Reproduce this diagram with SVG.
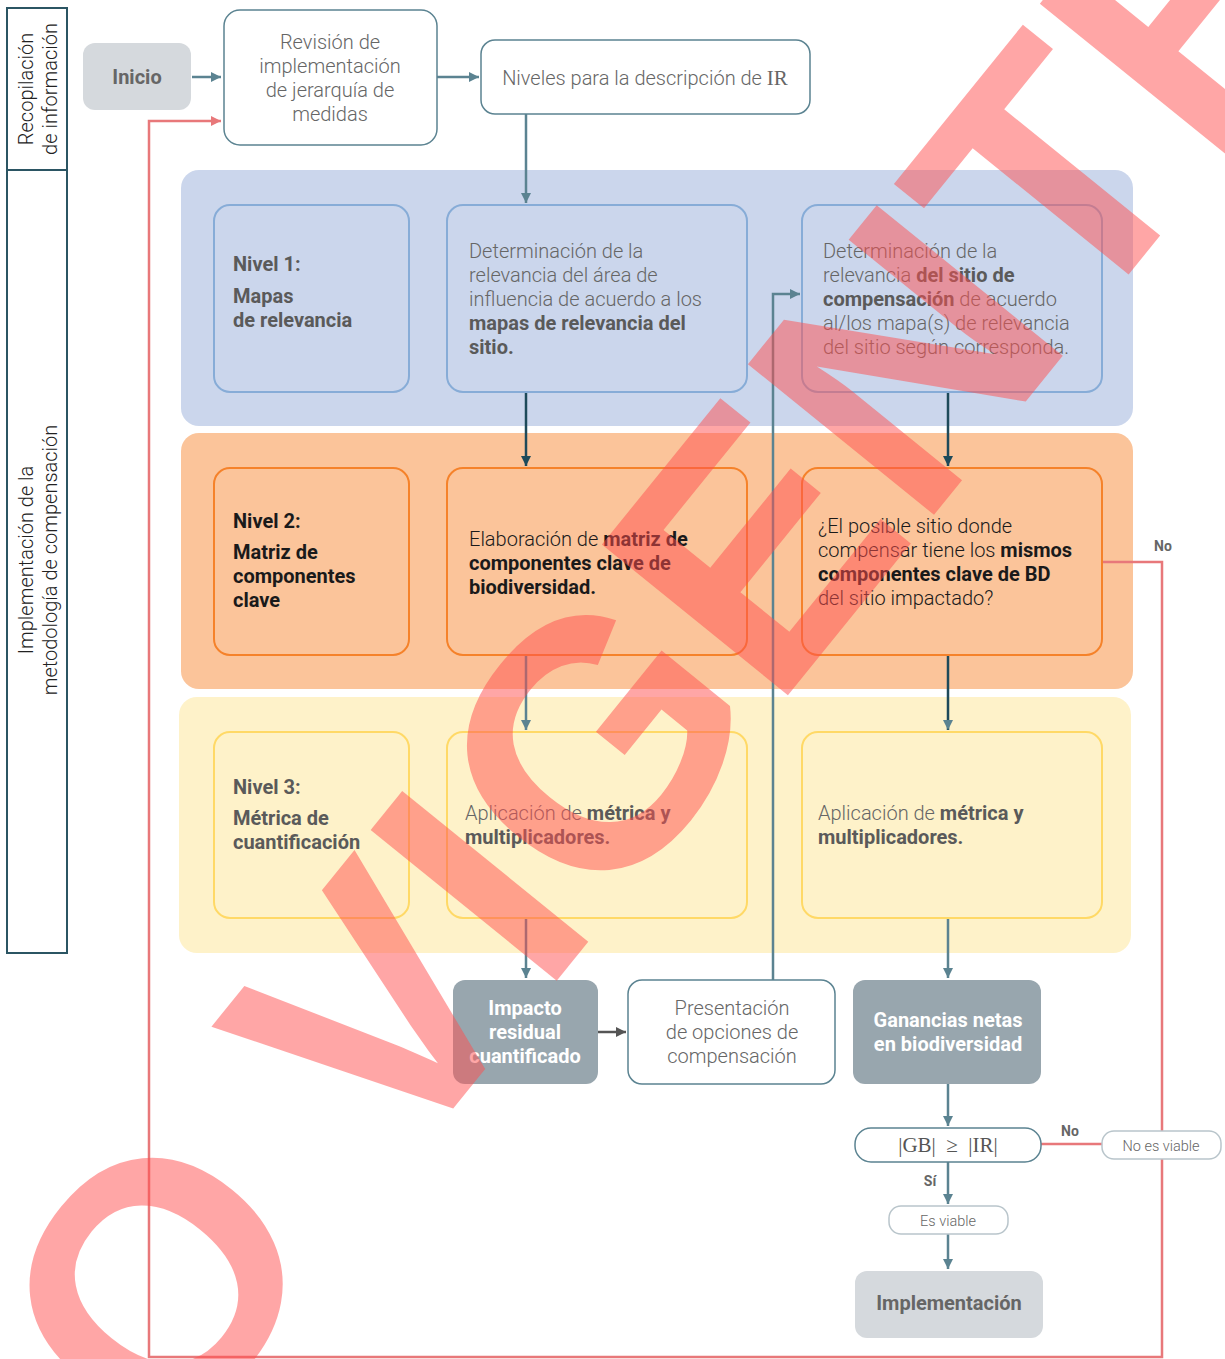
<svg xmlns="http://www.w3.org/2000/svg" width="1225" height="1359" viewBox="0 0 1225 1359">
<style>
.t{font-family:Roboto,"Liberation Sans",sans-serif;font-size:20px;font-weight:300;fill:#666}
.b{font-weight:700}
.dk{fill:#1a1a1a}
.w{fill:#fff;font-weight:700}
.m{text-anchor:middle}
.sm{font-size:14.5px}
.lab{font-family:Roboto,"Liberation Sans",sans-serif;font-size:14px;font-weight:700;fill:#666}
.side{fill:none;stroke:#2b5563;stroke-width:2}
.nb{fill:#fff;stroke:#5b8391;stroke-width:1.5}
.lb{fill:#fff;stroke:#b9c5cb;stroke-width:1.5}
.blu{fill:none;stroke:#87acd7;stroke-width:2}
.org{fill:none;stroke:#f5822a;stroke-width:2}
.yel{fill:none;stroke:#ffd966;stroke-width:2}
.grey{fill:#98a6ae}
.lg{fill:#d5d9dd}
.c{fill:none;stroke:#5b8391;stroke-width:2.5}
.cd{fill:none;stroke:#1e4a5a;stroke-width:2.5}
.cr{fill:none;stroke:#e8787a;stroke-width:2.5}
</style>
<defs>
<marker id="aT" markerUnits="userSpaceOnUse" markerWidth="12" markerHeight="12" refX="10" refY="5" orient="auto"><path d="M0,0 L10,5 L0,10 Z" fill="#5b8391"/></marker>
<marker id="aD" markerUnits="userSpaceOnUse" markerWidth="12" markerHeight="12" refX="10" refY="5" orient="auto"><path d="M0,0 L10,5 L0,10 Z" fill="#1e4a5a"/></marker>
<marker id="aG" markerUnits="userSpaceOnUse" markerWidth="12" markerHeight="12" refX="10" refY="5" orient="auto"><path d="M0,0 L10,5 L0,10 Z" fill="#555"/></marker>
<marker id="aR" markerUnits="userSpaceOnUse" markerWidth="12" markerHeight="12" refX="10" refY="5" orient="auto"><path d="M0,0 L10,5 L0,10 Z" fill="#e8787a"/></marker>
</defs>

<g id="lanes">
<rect class="side" x="7" y="8" width="60" height="162"/>
<rect class="side" x="7" y="170" width="60" height="783"/>
<text class="t m" style="fill:#222" transform="translate(33,89) rotate(-90)">Recopilación</text>
<text class="t m" style="fill:#222" transform="translate(57,89) rotate(-90)">de información</text>
<text class="t m" style="fill:#222" transform="translate(33,560) rotate(-90)">Implementación de la</text>
<text class="t m" style="fill:#222" transform="translate(57,560) rotate(-90)">metodología de compensación</text>
</g>

<g id="panels">
<rect x="181" y="170" width="952" height="256" rx="18" fill="#cbd6ec"/>
<rect x="181" y="433" width="952" height="256" rx="18" fill="#fbc49a"/>
<rect x="179" y="697" width="952" height="256" rx="18" fill="#fef2c9"/>
</g>

<g id="connectors">
<path class="c" d="M192,77 H221" marker-end="url(#aT)"/>
<path class="c" d="M437,77 H479" marker-end="url(#aT)"/>
<path class="c" d="M526,114 V203" marker-end="url(#aT)"/>
<path class="cd" d="M526,392 V466" marker-end="url(#aD)"/>
<path class="cd" d="M948,392 V466" marker-end="url(#aD)"/>
<path class="c" d="M526,655 V730" marker-end="url(#aT)"/>
<path class="cd" d="M948,655 V730" marker-end="url(#aT)"/>
<path class="c" d="M526,918 V978" marker-end="url(#aT)"/>
<path class="c" d="M948,918 V978" marker-end="url(#aT)"/>
<path class="c" d="M773,980 V294 H800" marker-end="url(#aT)"/>
<path fill="none" stroke="#555" stroke-width="2.5" d="M598,1032 H626" marker-end="url(#aG)"/>
<path class="c" d="M948,1084 V1126" marker-end="url(#aT)"/>
<path class="c" d="M948,1162 V1204" marker-end="url(#aT)"/>
<path class="c" d="M948,1234 V1269" marker-end="url(#aT)"/>
<path class="cr" d="M1041,1144 H1102"/>
<path class="cr" d="M1102,562 H1162 V1357 H149 V121 H221" marker-end="url(#aR)"/>
<text class="lab" x="1163" y="551" text-anchor="middle">No</text>
<text class="lab" x="1070" y="1136" text-anchor="middle">No</text>
<text class="lab" x="930" y="1186" text-anchor="middle">Sí</text>
</g>

<g id="inicio">
<rect class="lg" x="83" y="43" width="108" height="67" rx="12"/>
<text class="t b m" x="137" y="84">Inicio</text>
</g>
<g id="revision">
<rect class="nb" x="224" y="10" width="213" height="135" rx="16"/>
<text class="t m" x="330" y="49">Revisión de</text>
<text class="t m" x="330" y="73">implementación</text>
<text class="t m" x="330" y="97">de jerarquía de</text>
<text class="t m" x="330" y="121">medidas</text>
</g>
<g id="niveles">
<rect class="nb" x="481" y="40" width="329" height="74" rx="14"/>
<text class="t m" x="645" y="85">Niveles para la descripción de <tspan style="font-family:'Liberation Serif',serif;font-size:21px">IR</tspan></text>
</g>

<g id="nivel1">
<rect class="blu" x="214" y="205" width="195" height="187" rx="16"/>
<text class="t b" x="233" y="271" style="fill:#5a5a5a">Nivel 1:</text>
<text class="t b" x="233" y="303" style="fill:#5a5a5a">Mapas</text>
<text class="t b" x="233" y="327" style="fill:#5a5a5a">de relevancia</text>
</g>
<g id="relevancia-area">
<rect class="blu" x="447" y="205" width="300" height="187" rx="16"/>
<text class="t" x="469" y="258">Determinación de la</text>
<text class="t" x="469" y="282">relevancia del área de</text>
<text class="t" x="469" y="306">influencia de acuerdo a los</text>
<text class="t b" x="469" y="330" style="fill:#5a5a5a">mapas de relevancia del</text>
<text class="t b" x="469" y="354" style="fill:#5a5a5a">sitio.</text>
</g>
<g id="relevancia-sitio">
<rect class="blu" x="802" y="205" width="300" height="187" rx="16"/>
<text class="t" x="823" y="258">Determinación de la</text>
<text class="t" x="823" y="282">relevancia <tspan class="b" style="fill:#5a5a5a">del sitio de</tspan></text>
<text class="t" x="823" y="306"><tspan class="b" style="fill:#5a5a5a">compensación</tspan> de acuerdo</text>
<text class="t" x="823" y="330">al/los mapa(s) de relevancia</text>
<text class="t" x="823" y="354">del sitio según corresponda.</text>
</g>

<g id="nivel2">
<rect class="org" x="214" y="468" width="195" height="187" rx="16"/>
<text class="t b dk" x="233" y="528">Nivel 2:</text>
<text class="t b dk" x="233" y="559">Matriz de</text>
<text class="t b dk" x="233" y="583">componentes</text>
<text class="t b dk" x="233" y="607">clave</text>
</g>
<g id="matriz">
<rect class="org" x="447" y="468" width="300" height="187" rx="16"/>
<text class="t dk" x="469" y="546">Elaboración de <tspan class="b">matriz de</tspan></text>
<text class="t b dk" x="469" y="570">componentes clave de</text>
<text class="t b dk" x="469" y="594">biodiversidad.</text>
</g>
<g id="pregunta">
<rect class="org" x="802" y="468" width="300" height="187" rx="16"/>
<text class="t dk" x="818" y="533">¿El posible sitio donde</text>
<text class="t dk" x="818" y="557">compensar tiene los <tspan class="b">mismos</tspan></text>
<text class="t b dk" x="818" y="581">componentes clave de BD</text>
<text class="t dk" x="818" y="605">del sitio impactado?</text>
</g>

<g id="nivel3">
<rect class="yel" x="214" y="732" width="195" height="186" rx="16"/>
<text class="t b" x="233" y="794" style="fill:#5a5a5a">Nivel 3:</text>
<text class="t b" x="233" y="825" style="fill:#5a5a5a">Métrica de</text>
<text class="t b" x="233" y="849" style="fill:#5a5a5a">cuantificación</text>
</g>
<g id="metrica1">
<rect class="yel" x="447" y="732" width="300" height="186" rx="16"/>
<text class="t" x="465" y="820">Aplicación de <tspan class="b" style="fill:#5a5a5a">métrica y</tspan></text>
<text class="t b" x="465" y="844" style="fill:#5a5a5a">multiplicadores.</text>
</g>
<g id="metrica2">
<rect class="yel" x="802" y="732" width="300" height="186" rx="16"/>
<text class="t" x="818" y="820">Aplicación de <tspan class="b" style="fill:#5a5a5a">métrica y</tspan></text>
<text class="t b" x="818" y="844" style="fill:#5a5a5a">multiplicadores.</text>
</g>

<g id="impacto">
<rect class="grey" x="453" y="980" width="145" height="104" rx="12"/>
<text class="t w m" x="525" y="1015">Impacto</text>
<text class="t w m" x="525" y="1039">residual</text>
<text class="t w m" x="525" y="1063">cuantificado</text>
</g>
<g id="presentacion">
<rect class="nb" x="628" y="980" width="207" height="104" rx="14"/>
<text class="t m" x="732" y="1015">Presentación</text>
<text class="t m" x="732" y="1039">de opciones de</text>
<text class="t m" x="732" y="1063">compensación</text>
</g>
<g id="ganancias">
<rect class="grey" x="853" y="980" width="188" height="104" rx="12"/>
<text class="t w m" x="948" y="1027">Ganancias netas</text>
<text class="t w m" x="948" y="1051">en biodiversidad</text>
</g>
<g id="comparacion">
<rect class="nb" x="855" y="1128" width="186" height="34" rx="16"/>
<text x="948" y="1152" text-anchor="middle" style="font-family:'Liberation Serif',serif;font-size:21px;fill:#555" xml:space="preserve">|GB|  ≥  |IR|</text>
</g>
<g id="no-viable">
<rect class="lb" x="1102" y="1131" width="119" height="28" rx="12"/>
<text class="t sm m" x="1161" y="1151">No es viable</text>
</g>
<g id="es-viable">
<rect class="lb" x="889" y="1206" width="119" height="28" rx="12"/>
<text class="t sm m" x="948" y="1226">Es viable</text>
</g>
<g id="implementacion">
<rect class="lg" x="855" y="1271" width="188" height="67" rx="12"/>
<text class="t b m" x="949" y="1310">Implementación</text>
</g>

<g id="watermark">
<text x="682" y="826" text-anchor="middle" transform="rotate(-51 682 826)" style="font-family:'Liberation Sans',sans-serif;font-weight:700;font-size:348px;fill:#ff4d4d;fill-opacity:0.5">NO VIGENTE</text>
</g>
</svg>
